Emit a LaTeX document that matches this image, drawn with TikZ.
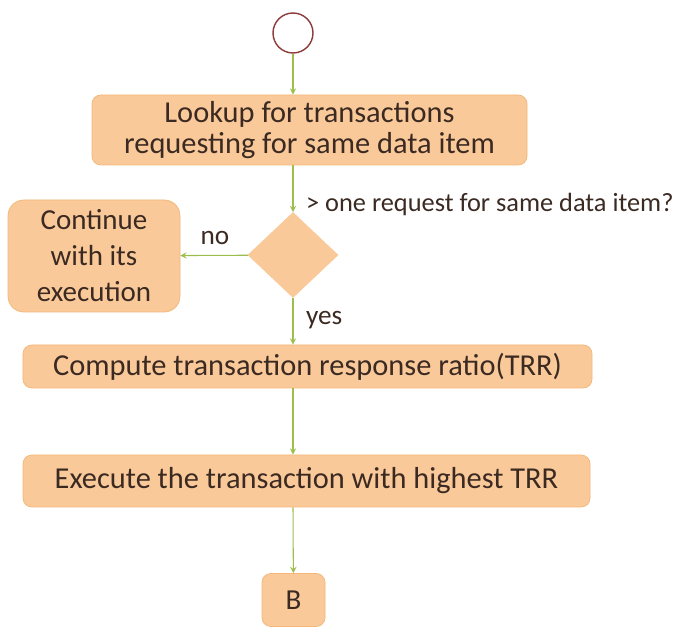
\documentclass[tikz,border=0pt]{standalone}
\usepackage{fontspec}
\setmainfont{Carlito}
\usepackage{tikz}
\usetikzlibrary{arrows}
\usetikzlibrary{shapes.geometric}

\definecolor{boxfill}{HTML}{FAC99A}
\definecolor{boxline}{HTML}{F3B676}
\definecolor{flow}{HTML}{9DBE4C}
\definecolor{ink}{HTML}{3B2A22}
\definecolor{startline}{HTML}{8E3B3B}

\begin{document}
\begin{tikzpicture}
    \tikzstyle{edge}=[draw=flow,semithick,->,>=stealth]
    \tikzstyle{act}=[rectangle,rounded corners=5pt,draw=boxline,fill=boxfill,text=ink,inner sep=2pt,align=center]
    \tikzstyle{choice}=[diamond,draw=boxfill,fill=boxfill,inner sep=0pt,minimum width=1.8cm,minimum height=1.7cm]
    \tikzstyle{lbl}=[text=ink,inner sep=1pt]

    \useasboundingbox (0,0) rectangle (13.56,12.58);

    \def\X{5.86}

    \node[circle,draw=startline,thick,fill=white,minimum size=0.8cm,inner sep=0pt] (start) at (\X,11.92) {};
    \node[act,minimum width=8.7cm,minimum height=1.4cm,font=\fontsize{17.3}{18}\selectfont] (lookup) at (6.19,9.98)
        {Lookup for transactions\\requesting for same data item};
    \node[choice] (check) at (\X,7.48) {};
    \node[act,rounded corners=9pt,minimum width=3.44cm,minimum height=2.24cm,font=\fontsize{16.5}{20.5}\selectfont] (cont) at (1.88,7.46)
        {Continue\\with its\\execution};
    \node[act,minimum width=11.38cm,minimum height=0.86cm,font=\fontsize{17.3}{18}\selectfont] (trr) at (6.15,5.25)
        {Compute transaction response ratio(TRR)};
    \node[act,minimum width=11.34cm,minimum height=1.04cm,font=\fontsize{17.3}{18}\selectfont] (exec) at (6.13,2.96)
        {Execute the transaction with highest TRR};
    \node[act,minimum width=1.26cm,minimum height=1.06cm,font=\fontsize{16.5}{18}\selectfont] (b) at (5.87,0.58) {B};

    \node[lbl,anchor=west,font=\fontsize{15}{16}\selectfont] (q) at (6.08,8.5) {> one request for same data item?};
    \node[lbl,font=\fontsize{15.5}{17}\selectfont] (no) at (4.3,7.82) {no};
    \node[lbl,anchor=west,font=\fontsize{15.5}{17}\selectfont] (yes) at (6.08,6.18) {yes};

    \path[edge] (start) -- (start |- lookup.north);
    \path[edge] (start |- lookup.south) -- (check);
    \path[edge] (check) -- (cont);
    \path[edge] (check) -- (check |- trr.north);
    \path[edge] (check |- trr.south) -- (check |- exec.north);
    \path[edge] (check |- exec.south) -- (b);
\end{tikzpicture}
\end{document}
